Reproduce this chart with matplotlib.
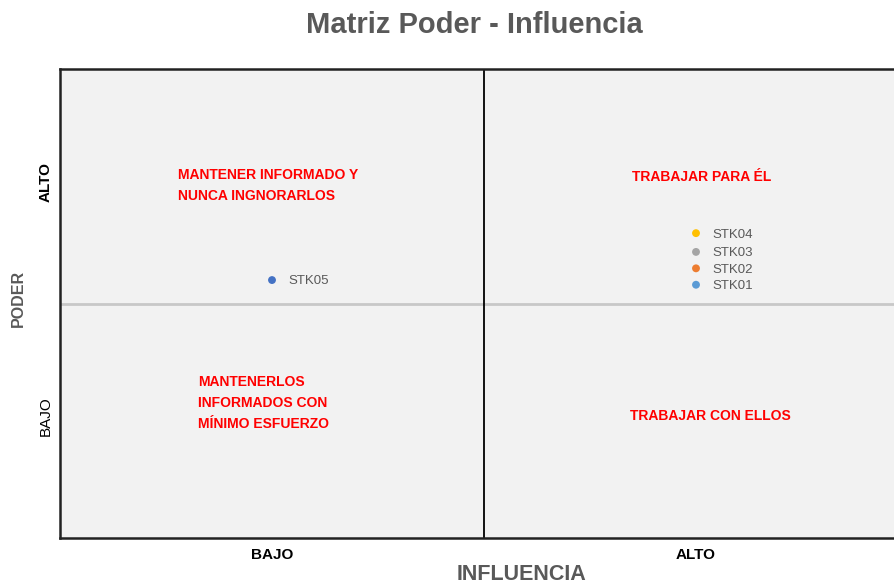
import matplotlib
matplotlib.use('Agg')
import matplotlib.pyplot as plt

plt.rcParams['font.family'] = ['Liberation Sans', 'DejaVu Sans']

# stakeholders: influencia (x), poder (y)
names = ['STK01', 'STK02', 'STK03', 'STK04', 'STK05']
influencia = [7.5, 7.5, 7.5, 7.5, 2.5]
poder = [5.4, 5.75, 6.1, 6.5, 5.5]
colors = ['#5B9BD5', '#ED7D31', '#A5A5A5', '#FFC000', '#4472C4']

x_ticks = [2.5, 7.5]
x_labels = ['BAJO', 'ALTO']
y_ticks = [2.6, 7.6]
y_labels = ['BAJO', 'ALTO']

quad_text = ['MANTENER INFORMADO Y\nNUNCA INGNORARLOS', 'TRABAJAR PARA ÉL',
             'MANTENERLOS\nINFORMADOS CON\nMÍNIMO ESFUERZO', 'TRABAJAR CON ELLOS']
quad_pos = [(1.39, 7.52), (6.75, 7.7), (1.63, 2.88), (6.72, 2.6)]

fig = plt.figure(figsize=(8.94, 5.85), dpi=100)
ax = fig.add_axes([60/894, 47/585, 848/894, 469/585])
ax.set_facecolor('#f2f2f2')
ax.set_xlim(0, 10)
ax.set_ylim(0, 10)

ax.axhline(5, color='#c8c8c8', lw=2, zorder=1)
ax.axvline(5, color='black', lw=1.3, zorder=1)

for x, y, c, n in zip(influencia, poder, colors, names):
    ax.scatter(x, y, s=32, color=c, zorder=3, edgecolors='none')
    ax.text(x + 0.19, y - 0.03, n, fontsize=9.5, color='#595959', va='center', ha='left')

for (x, y), t in zip(quad_pos, quad_text):
    ax.text(x, y, t, color='#ff0000', fontsize=10, fontweight='bold', ha='left',
            va='center', linespacing=1.65)

for s in ax.spines.values():
    s.set_linewidth(1.8)
    s.set_color('#222222')

ax.set_xticks(x_ticks)
ax.set_xticklabels(x_labels, fontsize=11, fontweight='bold')
ax.set_yticks(y_ticks)
ax.set_yticklabels(y_labels, fontsize=11, rotation=90, va='center')
ax.get_yticklabels()[1].set_fontweight('bold')
ax.tick_params(axis='x', length=0, pad=7)
ax.tick_params(axis='y', length=0, pad=5)

# axis titles placed like the original (x title is off-centre and clipped)
fig.text(521/894, 1 - 580/585, 'INFLUENCIA', fontsize=15.5, fontweight='bold',
         color='#595959', ha='center', va='baseline')
fig.text(18/894, 1 - 298/585, 'PODER', fontsize=11.5, fontweight='bold',
         color='#595959', ha='center', va='center', rotation=90)

fig.text(474/894, 1 - 25/585, 'Matriz Poder - Influencia', fontsize=21, fontweight='bold',
         color='#595959', ha='center', va='center')

fig.savefig('out.png', dpi=100)
